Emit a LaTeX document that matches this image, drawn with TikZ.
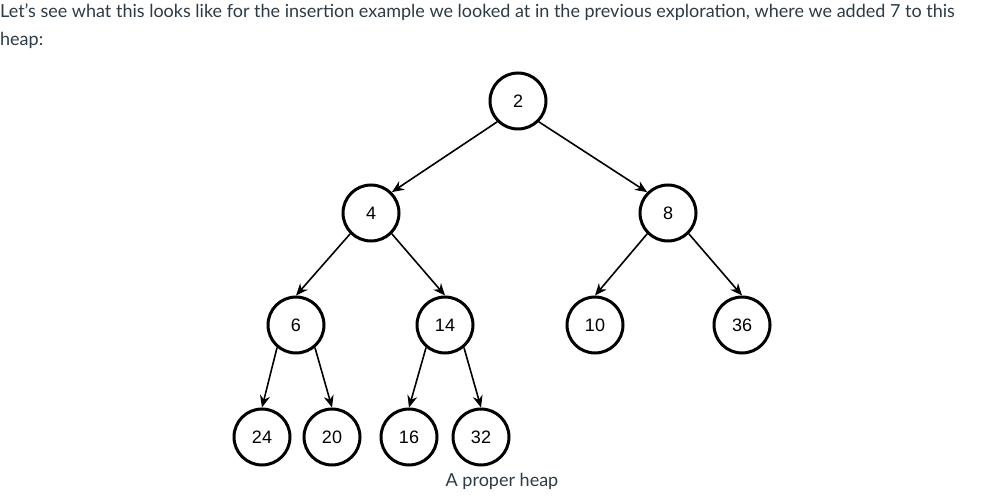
\documentclass[tikz,border=0pt]{standalone}
\usepackage{fontspec}
\setmainfont{Lato}
\newfontfamily\nodefont{Liberation Sans}
\usetikzlibrary{arrows.meta}
\definecolor{txtgray}{HTML}{2D3B45}
\begin{document}
\begin{tikzpicture}[x=1pt,y=-1pt,
  hnode/.style={circle,draw=black,line width=3pt,minimum size=56pt,inner sep=0pt,font=\nodefont\fontsize{18}{21}\selectfont},
  bodytext/.style={text=txtgray,font=\fontsize{18}{22}\selectfont,inner sep=0pt},
  hedge/.style={line width=1.6pt,-{Stealth[length=12pt,width=10pt]}}]
\useasboundingbox (0,0) rectangle (995,502);
\node[bodytext,anchor=base west] (l1) at (0,18) {Let’s see what this looks like for the insertion example we looked at in the previous exploration, where we added 7 to this};
\node[bodytext,anchor=base west] (l2) at (0,46) {heap:};
\node[hnode] (n2) at (518,101) {2};
\node[hnode] (n4) at (371,213) {4};
\node[hnode] (n8) at (668,213) {8};
\node[hnode] (n6) at (296,325) {6};
\node[hnode] (n14) at (445,325) {14};
\node[hnode] (n10) at (595,325) {10};
\node[hnode] (n36) at (742,325) {36};
\node[hnode] (n24) at (262,437) {24};
\node[hnode] (n20) at (332,437) {20};
\node[hnode] (n16) at (409,437) {16};
\node[hnode] (n32) at (481,437) {32};
\node[bodytext] (cap) at (502,481) {A proper heap};
\draw[hedge] (n2.225) -- (n4.45);
\draw[hedge] (n2.315) -- (n8.135);
\draw[hedge] (n4.225) -- (n6.north);
\draw[hedge] (n4.315) -- (n14.north);
\draw[hedge] (n8.225) -- (n10.north);
\draw[hedge] (n8.315) -- (n36.north);
\draw[hedge] (n6.230) -- (n24.north);
\draw[hedge] (n6.310) -- (n20.north);
\draw[hedge] (n14.230) -- (n16.north);
\draw[hedge] (n14.310) -- (n32.north);
\end{tikzpicture}
\end{document}
